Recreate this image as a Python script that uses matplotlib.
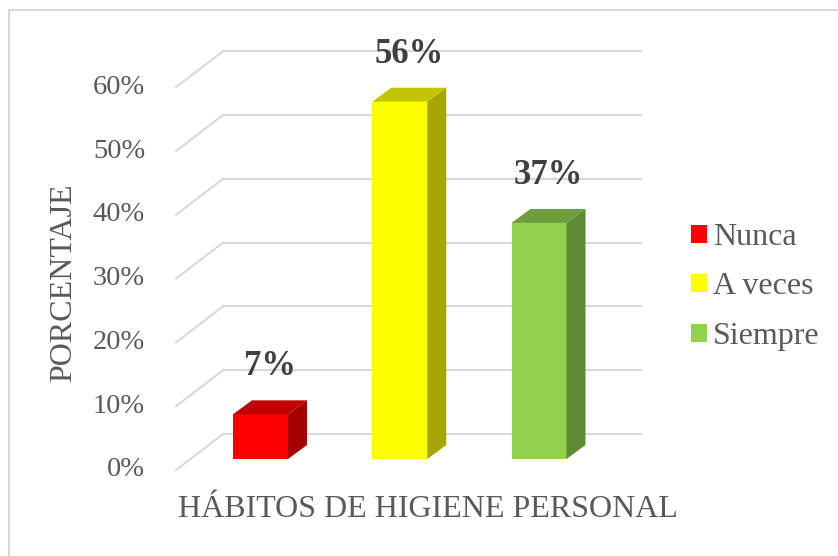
import matplotlib
matplotlib.use('Agg')
import matplotlib.pyplot as plt
from matplotlib.patches import Polygon, Patch, Rectangle

plt.rcParams['font.family'] = ['Liberation Serif', 'DejaVu Serif']

# datos del grafico
categorias = ['Nunca', 'A veces', 'Siempre']
porcentajes = [7, 56, 37]
etiquetas = ['7%', '56%', '37%']
ticks = [0, 10, 20, 30, 40, 50, 60]
tick_labels = ['0%', '10%', '20%', '30%', '40%', '50%', '60%']

# colores (cara frontal, cara superior, cara lateral)
frente = ['#FF0000', '#FFFF00', '#92D050']
arriba = ['#C00000', '#C4C400', '#6E9E3C']
lado = ['#A50000', '#A6A600', '#5E8A33']
gris = '#595959'
grid_c = '#D9D9D9'

W, H = 838, 556
fig = plt.figure(figsize=(W / 100, H / 100), dpi=100)
ax = fig.add_axes([0, 0, 1, 1])
ax.axis('off')

# escala: una categoria = 139.25 px, 1% = 6.38 px
sx, sy = 139.25, 6.38
ax.set_xlim(-260.5 / sx, (W - 260.5) / sx)
ax.set_ylim((459 - H) / sy, 459 / sy)


def px(dx, dy):
    return dx / sx, dy / sy


bx, by = px(32.2, 25)      # pared del fondo
fx, fy = px(-14.8, -11)    # plano frontal
dbx, dby = px(19, 14)      # profundidad de la barra
ancho = 55 / sx
x0, x1 = -0.5, len(categorias) - 0.5

# rejilla en 3D
for t in ticks:
    ax.plot([x0 + fx, x0 + bx], [t + fy, t + by], color=grid_c, lw=1.5, zorder=1)
    ax.plot([x0 + bx, x1 + bx], [t + by, t + by], color=grid_c, lw=1.5, zorder=1)

for t, lab in zip(ticks, tick_labels):
    ax.text(x0 + fx - 31 / sx, t + fy, lab, ha='right', va='center',
            fontsize=20.5, color=gris)

# barras 3D
for i, v in enumerate(porcentajes):
    ax.bar(i, v, width=ancho, color=frente[i], label=categorias[i], zorder=3)
    l, r = i - ancho / 2, i + ancho / 2
    ax.add_patch(Polygon([(l, v), (r, v), (r + dbx, v + dby), (l + dbx, v + dby)],
                         closed=True, facecolor=arriba[i], edgecolor='none', zorder=3))
    ax.add_patch(Polygon([(r, 0), (r + dbx, dby), (r + dbx, v + dby), (r, v)],
                         closed=True, facecolor=lado[i], edgecolor='none', zorder=3))
    ax.text(i + dbx / 2, v + dby + 25 / sy, etiquetas[i], ha='center', va='baseline',
            fontsize=25, fontweight='bold', color='#404040', zorder=4)

# titulos de ejes
fig.text(64 / W, 1 - 283 / H, 'PORCENTAJE', rotation=90, ha='center', va='center',
         fontsize=23, color=gris)
fig.text(428 / W, 1 - 517 / H, 'HÁBITOS DE HIGIENE PERSONAL', ha='center',
         va='baseline', fontsize=23, color=gris)

# leyenda
handles = [Patch(facecolor=c, edgecolor='none') for c in frente]
fig.legend(handles, categorias, loc='center left', bbox_to_anchor=(691 / W, 1 - 287 / H),
           frameon=False, fontsize=23, labelcolor=gris, handlelength=0.5,
           handleheight=0.5, handletextpad=0.2, labelspacing=0.64,
           borderpad=0, borderaxespad=0)

# borde del grafico
fig.patches.append(Rectangle((9 / W, -0.5), 2, 1.5 - 10 / H, transform=fig.transFigure,
                             fill=False, edgecolor=grid_c, lw=1.5))

fig.savefig('out.png', dpi=100)
